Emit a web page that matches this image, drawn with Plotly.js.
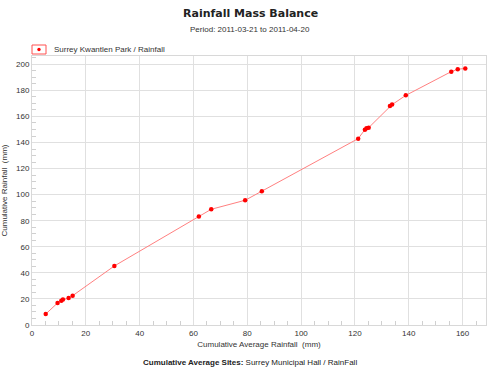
<!DOCTYPE html>
<html><head><meta charset="utf-8">
<script src="https://cdn.plot.ly/plotly-3.0.1.min.js"></script>
<style>html,body{margin:0;padding:0;background:#fff}#chart{width:500px;height:375px}</style>
</head><body><div id="chart"></div>
<script>
var avgRain = [5.1, 9.5, 10.9, 11.5, 13.6, 15.1, 30.6, 62.0, 66.6, 79.2, 85.4, 121.2, 123.7, 124.3, 125.1, 133.0, 133.8, 138.9, 155.8, 158.2, 161.0];
var siteRain = [8.4, 16.9, 18.7, 19.5, 20.7, 22.5, 45.3, 83.2, 88.8, 95.7, 102.6, 143.0, 149.9, 150.9, 151.4, 168.0, 169.1, 176.2, 194.4, 196.2, 196.9];
var seriesName = 'Surrey Kwantlen Park / Rainfall';
var chartTitle = 'Rainfall Mass Balance';
var subTitle = 'Period: 2011-03-21 to 2011-04-20';
var xTitle = 'Cumulative Average Rainfall  (mm)';
var yTitle = 'Cumulative Rainfall  (mm)';
var footerBold = 'Cumulative Average Sites:';
var footerText = 'Surrey Municipal Hall / RainFall';

var F = 'Liberation Sans, Arial, sans-serif';
var W = 500, H = 375, ML = 32, MR = 14, MT = 56, MB = 50;
var plotW = W - ML - MR, plotH = H - MT - MB;
function px(x){ return (x - ML) / plotW; }
function py(y){ return 1 - (y - MT) / plotH; }

var trace = {
  x: avgRain, y: siteRain, type: 'scatter', mode: 'lines+markers', name: seriesName,
  line: {color: '#ff8080', width: 1},
  marker: {color: '#ff0000', size: 4.5, symbol: 'circle'},
  showlegend: false
};
var axisCommon = {
  showgrid: true, gridcolor: '#e0e0e0', gridwidth: 1,
  showline: true, linecolor: '#d8d8d8', linewidth: 1, mirror: true,
  zeroline: false, ticks: '', tickfont: {family: F, size: 8, color: '#333'},
  minor: {ticks: 'inside', dtick: 5, ticklen: 4, tickcolor: '#d0d0d0', showgrid: false}
};
var layout = {
  width: W, height: H,
  margin: {l: ML, r: MR, t: MT, b: MB},
  paper_bgcolor: '#fff', plot_bgcolor: '#fff',
  showlegend: false,
  xaxis: Object.assign({}, axisCommon, {range: [0, 168.7], dtick: 20, tick0: 0,
    title: {text: xTitle, font: {family: F, size: 8, color: '#333'}, standoff: 4}}),
  yaxis: Object.assign({}, axisCommon, {range: [0, 206.4], dtick: 20, tick0: 0,
    title: {text: yTitle, font: {family: F, size: 8, color: '#333'}, standoff: 9}}),
  shapes: [
    {type: 'rect', xref: 'paper', yref: 'paper', x0: px(32), x1: px(46), y0: py(45), y1: py(54),
      line: {color: '#ff5050', width: 1}, fillcolor: 'rgba(0,0,0,0)'},
    {type: 'circle', xref: 'paper', yref: 'paper', x0: px(37.3), x1: px(40.7), y0: py(47.8), y1: py(51.2),
      line: {color: '#ff0000', width: 0}, fillcolor: '#ff0000'}
  ],
  annotations: [
    {text: '<b>' + chartTitle + '</b>', x: px(250), y: py(13), xanchor: 'center', yanchor: 'middle',
      font: {family: 'DejaVu Sans, Verdana, sans-serif', size: 11, color: '#222'}},
    {text: subTitle, x: px(250), y: py(29), xanchor: 'center', yanchor: 'middle',
      font: {family: F, size: 8, color: '#333'}},
    {text: seriesName, x: px(52), y: py(49.5), xanchor: 'left', yanchor: 'middle',
      font: {family: F, size: 8, color: '#333'}},
    {text: '<b>' + footerBold + '</b> ' + footerText, x: px(250), y: py(362), xanchor: 'center', yanchor: 'middle',
      font: {family: F, size: 8, color: '#222'}}
  ].map(function(a){ a.xref = 'paper'; a.yref = 'paper'; a.showarrow = false; return a; })
};
Plotly.newPlot('chart', [trace], layout, {displayModeBar: false, staticPlot: true});
</script></body></html>
